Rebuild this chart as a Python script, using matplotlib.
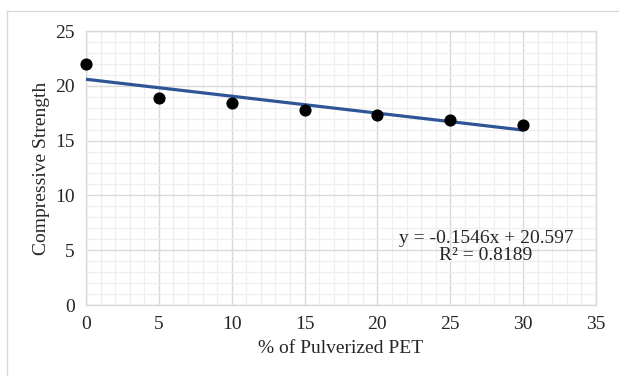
import matplotlib.pyplot as plt
from matplotlib.ticker import MultipleLocator
from matplotlib.lines import Line2D

# Дані: % подрібненого ПЕТ та міцність на стиск
pet_percent = [0, 5, 10, 15, 20, 25, 30]
strength = [22.0, 18.9, 18.45, 17.8, 17.35, 16.9, 16.4]

# Коефіцієнти лінійного тренду (з рівняння на графіку)
slope = -0.1546
intercept = 20.597
r_squared = 0.8189

plt.rcParams['font.family'] = ['Liberation Serif', 'DejaVu Serif']

fig = plt.figure(figsize=(6.19, 3.76), dpi=100)
ax = fig.add_axes([86 / 619, 1 - 305 / 376, 510 / 619, 274 / 376])

# Рамка області діаграми (як в Excel)
fig.add_artist(Line2D([7 / 619, 1], [1 - 11 / 376] * 2, color='#d9d9d9', lw=1))
fig.add_artist(Line2D([7 / 619] * 2, [0, 1 - 11 / 376], color='#d9d9d9', lw=1))

# Сітка
ax.set_xlim(0, 35)
ax.set_ylim(0, 25)
ax.xaxis.set_major_locator(MultipleLocator(5))
ax.yaxis.set_major_locator(MultipleLocator(5))
ax.xaxis.set_minor_locator(MultipleLocator(1))
ax.yaxis.set_minor_locator(MultipleLocator(1))
ax.grid(True, which='major', color='#d9d9d9', lw=1.0, zorder=0)
ax.grid(True, which='minor', color='#efefef', lw=0.9, zorder=0)
ax.set_axisbelow(True)
for side in ax.spines:
    ax.spines[side].set_color('#d9d9d9')
    ax.spines[side].set_linewidth(1.0)
ax.tick_params(which='both', length=0, labelsize=14, colors='#262626')
ax.tick_params(axis='x', pad=8)
ax.tick_params(axis='y', pad=8)

# Лінія тренду
xs = [pet_percent[0], pet_percent[-1]]
ys = [slope * x + intercept for x in xs]
ax.plot(xs, ys, color='#2f5597', lw=2.3, zorder=3, solid_capstyle='butt')

# Точки
ax.scatter(pet_percent, strength, s=60, color='black', zorder=5, clip_on=False)

# Рівняння
ax.text(27.45, 5.3, f"y = {slope}x + {intercept}\nR² = {r_squared}",
        ha='center', va='center', fontsize=14, color='#262626', linespacing=1.05)

ax.set_xlabel("% of Pulverized PET", fontsize=14, color='#262626', labelpad=5)
ax.set_ylabel("Compressive Strength", fontsize=14, color='#262626', labelpad=4)

fig.savefig("out.png", dpi=100)
